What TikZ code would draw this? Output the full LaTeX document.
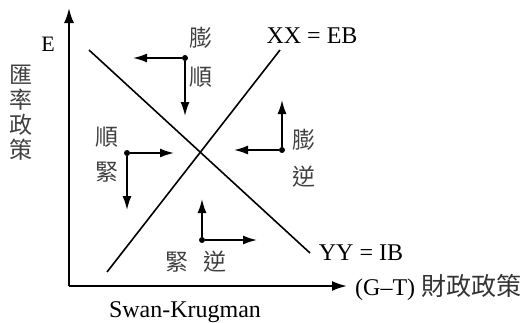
\documentclass[tikz,border=0pt]{standalone}
\usepackage{fontspec}
\setmainfont{Liberation Serif}
\newfontfamily\cjk{Noto Sans CJK TC}
\usetikzlibrary{arrows.meta}
\begin{document}
\begin{tikzpicture}[x=1pt,y=-1pt,
  axis/.style={line width=2pt,-{Latex[length=15pt,width=10pt]}},
  curve/.style={line width=1.6pt},
  mv/.style={line width=1.6pt,-{Latex[length=14pt,width=9pt]}},
  dotn/.style={circle,fill=black,inner sep=0pt,minimum size=6pt},
  zh/.style={font=\cjk\fontsize{23}{25}\selectfont,text=black!75,inner sep=0pt},
  lat/.style={font=\fontsize{24}{26}\selectfont,inner sep=0pt}]
\useasboundingbox (0,0) rectangle (522,322);
% axes
\coordinate (O) at (69,286);
\coordinate (Ytop) at (69,8);
\coordinate (Xend) at (347,286);
\draw[axis] (O) -- (Ytop);
\draw[axis] (O) -- (Xend);
\node[lat,font=\fontsize{22}{24}\selectfont] (E) at (48,44) {E};
\node[zh,align=center] (ylab) at (21,113) {匯\\率\\政\\策};
\node[lat,anchor=west] (xlab) at (355,287) {(G–T) {\cjk\fontsize{25}{27}\selectfont\color{black!80}財政政策}};
\node[lat] (swan) at (185,312) {Swan-Krugman};
% lines
\coordinate (YYa) at (89,50);
\coordinate (YYb) at (310,253);
\coordinate (XXa) at (280,50);
\coordinate (XXb) at (107,272);
\draw[curve] (YYa) -- (YYb);
\draw[curve] (XXb) -- (XXa);
\node[lat] (xxlab) at (312,36) {XX = EB};
\node[lat] (yylab) at (361,253) {YY = IB};
% top movement
\node[dotn] (d1) at (185,58) {};
\coordinate (d1l) at (133,58);
\coordinate (d1d) at (185,116);
\draw[mv] (d1) -- (d1l);
\draw[mv] (d1) -- (d1d);
\node[zh] (t1a) at (201,38) {膨};
\node[zh] (t1b) at (201,77) {順};
% right movement
\node[dotn] (d2) at (282,150) {};
\coordinate (d2u) at (282,100);
\coordinate (d2l) at (234,150);
\draw[mv] (d2) -- (d2u);
\draw[mv] (d2) -- (d2l);
\node[zh] (t2a) at (304,140) {膨};
\node[zh] (t2b) at (304,177) {逆};
% left movement
\node[dotn] (d3) at (127,153) {};
\coordinate (d3r) at (174,153);
\coordinate (d3d) at (127,210);
\draw[mv] (d3) -- (d3r);
\draw[mv] (d3) -- (d3d);
\node[zh] (t3a) at (107,137) {順};
\node[zh] (t3b) at (107,172) {緊};
% bottom movement
\node[dotn] (d4) at (202,240) {};
\coordinate (d4u) at (202,199);
\coordinate (d4r) at (257,240);
\draw[mv] (d4) -- (d4u);
\draw[mv] (d4) -- (d4r);
\node[zh] (t4a) at (177,262) {緊};
\node[zh] (t4b) at (215,262) {逆};
\end{tikzpicture}
\end{document}
